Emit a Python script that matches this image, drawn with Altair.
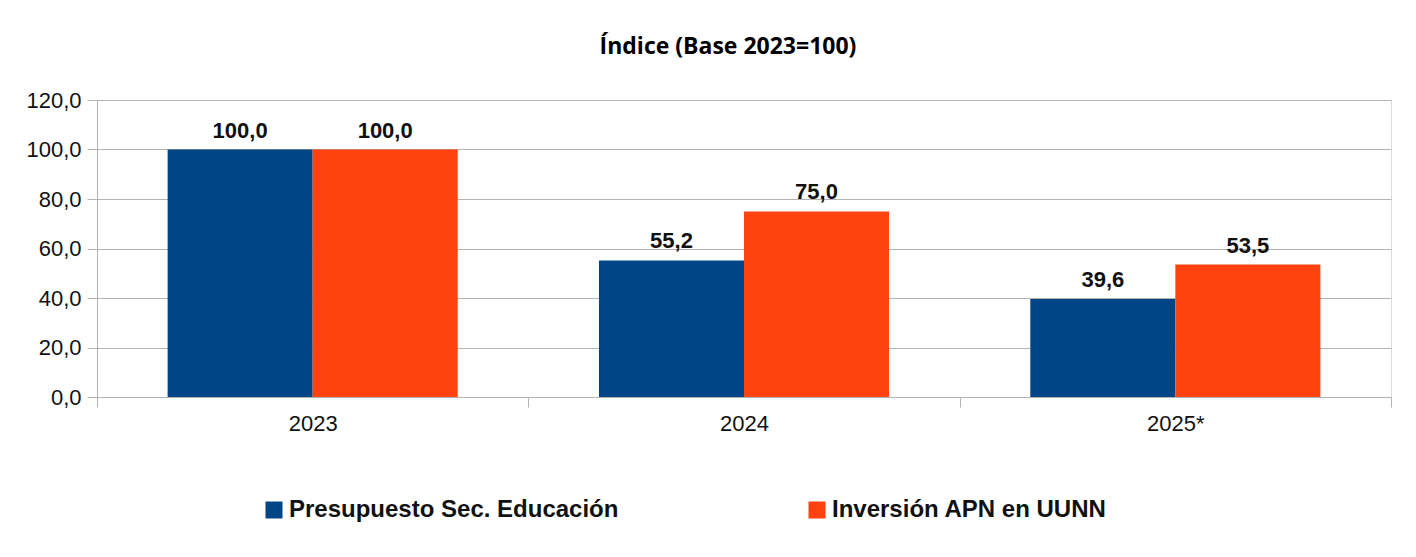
import altair as alt
import pandas as pd

years = ["2023", "2024", "2025*"]
series = ["Presupuesto Sec. Educación", "Inversión APN en UUNN"]
presupuesto = [100.0, 55.2, 39.6]
inversion = [100.0, 75.0, 53.5]
colors = ["#004586", "#ff420e"]
y_ticks = [0, 20, 40, 60, 80, 100, 120]

rows = []
for i, yr in enumerate(years):
    rows.append({"year": yr, "serie": series[0], "v": presupuesto[i]})
    rows.append({"year": yr, "serie": series[1], "v": inversion[i]})
df = pd.DataFrame(rows)

FONT = "Liberation Sans"
GRID = "#b3b3b3"

x = alt.X("year:N", sort=years, title=None,
          scale=alt.Scale(paddingInner=0, paddingOuter=0),
          axis=alt.Axis(labelAngle=0, tickBand="extent", tickSize=10, tickColor=GRID,
                        domainColor=GRID, labelFont=FONT, labelFontSize=22,
                        labelColor="#111111", labelPadding=6, grid=False))
xo = alt.XOffset("serie:N", sort=series,
                 scale=alt.Scale(paddingInner=0, paddingOuter=0.487))
y = alt.Y("v:Q", title=None,
          scale=alt.Scale(domain=[0, 120], nice=False),
          axis=alt.Axis(values=y_ticks, tickSize=10, tickColor=GRID, domainColor=GRID,
                        gridColor=GRID, labelFont=FONT, labelFontSize=22,
                        labelColor="#111111", labelPadding=6,
                        labelExpr="replace(format(datum.value, '.1f'), '.', ',')"))

bars = alt.Chart(df).mark_bar(stroke=None).encode(
    x=x, xOffset=xo, y=y,
    color=alt.Color("serie:N", sort=series,
                    scale=alt.Scale(domain=series, range=colors),
                    legend=alt.Legend(title=None, orient="none", direction="horizontal",
                                      legendX=165, legendY=398, symbolType="square",
                                      symbolSize=289, symbolStrokeWidth=0,
                                      labelFont=FONT, labelFontSize=24,
                                      labelFontWeight="bold", labelColor="#111111",
                                      labelOffset=3, labelLimit=0, columnPadding=186)),
)

labels = alt.Chart(df).transform_calculate(
    lab="replace(format(datum.v, '.1f'), '.', ',')"
).mark_text(font=FONT, fontSize=22, fontWeight="bold", color="#111111",
            baseline="alphabetic", dy=-12).encode(
    x=alt.X("year:N", sort=years), xOffset=xo, y="v:Q", text="lab:N")

chart = alt.layer(bars, labels).properties(
    width=1294, height=297,
    title=alt.TitleParams("Índice (Base 2023=100)", font="Open Sans", fontSize=23,
                          fontWeight="bold", color="#000000", anchor="middle",
                          dx=-16, offset=30),
    autosize=alt.AutoSizeParams(type="none"),
    padding={"left": 89, "top": 92, "right": 17, "bottom": 141},
).configure_view(stroke=GRID, strokeWidth=1).configure(background="white")

chart.save("out.html", embed_options={"renderer": "svg", "actions": False})
